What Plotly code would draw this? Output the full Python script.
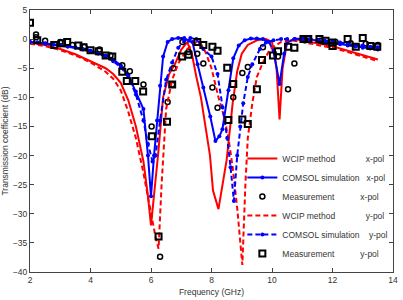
import plotly.graph_objects as go

# ---------------- data ----------------
wcip_x_f = [2.0, 2.5, 3.0, 3.5, 4.0, 4.5, 4.75, 5.0, 5.25, 5.5, 5.75, 5.9, 6.0, 6.1, 6.25, 6.4, 6.6, 6.8, 7.0,
            7.2, 7.35, 7.5, 7.65, 7.8, 7.95, 8.05, 8.23, 8.5, 8.6, 8.7, 8.85, 9.0, 9.2, 9.5, 9.8, 10.0, 10.15,
            10.25, 10.35, 10.5, 10.8, 11.0, 11.5, 12.0, 12.5, 13.0, 13.5]
wcip_x_db = [-0.5, -1.0, -1.7, -2.6, -3.8, -5.0, -6.0, -7.5, -10.5, -15.0, -21.0, -27.0, -32.0, -27.0, -19.0, -10.0, -6.0, -4.2, -1.8,
             -0.5, -2.5, -6.5, -10.0, -15.0, -20.0, -26.0, -29.2, -20.8, -16.0, -11.0, -5.5, -2.5, -1.0, -0.2, 0.0, -0.5, -5.0,
             -13.8, -5.0, -0.5, 0.0, -0.3, -0.7, -1.2, -2.0, -2.8, -3.5]

comsol_x_f = [2.0, 2.25, 2.5, 2.75, 3.0, 3.25, 3.5, 3.75, 4.0, 4.25, 4.5, 4.75, 5.0, 5.25, 5.5, 5.75, 5.9, 6.0, 6.1, 6.2,
              6.3, 6.4, 6.55, 6.7, 6.9, 7.1, 7.25, 7.37, 7.54, 7.73, 7.96, 8.13, 8.26, 8.36, 8.56, 8.72, 8.9, 9.1,
              9.3, 9.5, 9.7, 9.9, 10.05, 10.25, 10.4, 10.5, 10.75, 11.0, 11.25, 11.5, 11.75, 12.0, 12.25, 12.5,
              12.75, 13.0, 13.25, 13.5]
comsol_x_db = [-0.5, -0.6, -0.7, -0.85, -1.0, -1.2, -1.4, -1.7, -2.0, -2.4, -2.8, -3.5, -4.5, -6.2, -9.0, -12.0, -20.0, -27.0, -20.0, -14.0,
               -8.0, -3.0, -0.5, 0.0, 0.2, 0.2, -0.3, -0.5, -4.3, -8.3, -13.3, -17.5, -16.7, -15.5, -8.8, -3.3, -1.1, -0.2,
               0.1, 0.1, 0.0, -0.5, -2.0, -7.7, -2.5, -0.5, 0.0, 0.1, 0.0, -0.3, -0.5, -0.7, -0.9, -1.1,
               -1.3, -1.5, -1.6, -1.8]

meas_x_f = [2.2, 2.2, 2.5, 3.0, 3.4, 3.8, 4.3, 4.66, 5.05, 5.3, 5.75, 6.02, 6.3, 6.55, 6.7, 6.74, 7.04, 7.24,
            7.53, 7.73, 8.03, 8.2, 8.72, 9.02, 9.2, 9.7, 10.2, 10.53, 10.74, 11.1, 11.6, 12.1, 12.6, 13.1, 13.5]
meas_x_db = [0.8, 0.3, -0.3, -0.5, -1.0, -1.3, -1.8, -2.8, -4.5, -5.5, -7.8, -15.0, -37.4, -10.8, -7.8, -5.0, -0.5, -2.2,
             -2.5, -4.2, -8.3, -11.8, -10.0, -5.8, -4.8, -1.4, -3.0, -8.6, -4.2, -0.2, -0.3, -0.5, -0.7, -0.8, -1.0]

wcip_y_f = [2.0, 2.5, 3.0, 3.5, 4.0, 4.5, 4.75, 5.0, 5.25, 5.5, 5.75, 6.0, 6.15, 6.25, 6.35, 6.5, 6.7, 6.9, 7.2,
            7.5, 7.65, 7.8, 8.0, 8.23, 8.4, 8.56, 8.7, 8.85, 9.02, 9.12, 9.2, 9.35, 9.5, 9.7, 9.94, 10.3, 10.6,
            11.0, 11.5, 12.0, 12.5, 13.0, 13.5]
wcip_y_db = [-0.8, -1.2, -1.9, -2.8, -4.0, -5.6, -6.8, -8.8, -12.5, -17.0, -23.0, -30.0, -34.0, -36.0, -25.0, -12.0, -7.0, -4.2, -1.7,
             -0.5, -0.8, -2.2, -5.0, -10.0, -13.0, -17.0, -22.0, -29.0, -38.8, -25.0, -17.0, -11.0, -6.5, -4.0, -1.7, -0.5, -0.2,
             -0.5, -1.0, -1.5, -2.2, -3.0, -3.8]

comsol_y_f = [2.0, 2.25, 2.5, 2.75, 3.0, 3.25, 3.5, 3.75, 4.0, 4.25, 4.5, 4.75, 5.0, 5.25, 5.5, 5.75, 5.9, 6.05, 6.15, 6.3,
              6.5, 6.7, 6.9, 7.1, 7.3, 7.5, 7.73, 8.0, 8.2, 8.36, 8.52, 8.63, 8.74, 8.85, 8.95, 9.05, 9.2, 9.35,
              9.6, 9.8, 10.05, 10.3, 10.5, 10.75, 11.0, 11.25, 11.5, 11.75, 12.0, 12.25, 12.5, 12.75, 13.0, 13.25, 13.5]
comsol_y_db = [-0.5, -0.6, -0.8, -0.95, -1.1, -1.3, -1.5, -1.8, -2.1, -2.5, -3.0, -3.8, -4.8, -6.5, -9.5, -14.0, -18.0, -21.0, -20.0, -14.0,
               -7.0, -4.0, -1.5, -0.3, 0.2, 0.0, -1.7, -3.0, -6.0, -11.7, -17.0, -22.0, -27.8, -20.0, -15.0, -11.0, -6.5, -4.3,
               -1.7, -0.6, -0.2, 0.0, 0.0, 0.0, 0.0, -0.1, -0.1, -0.3, -0.4, -0.6, -0.8, -1.0, -1.1, -1.3, -1.4]

meas_y_f = [2.0, 2.24, 2.8, 3.06, 3.23, 3.6, 3.77, 4.0, 4.27, 4.5, 4.72, 5.05, 5.2, 5.48, 5.74, 6.03, 6.25, 6.53, 6.7,
            7.03, 7.24, 7.53, 7.73, 8.03, 8.2, 8.52, 8.56, 8.72, 9.02, 9.2, 9.5, 9.67, 10.03, 10.2, 10.53, 10.74,
            11.04, 11.2, 11.57, 11.77, 12.0, 12.0, 12.5, 12.77, 13.0, 13.25, 13.48]
meas_y_db = [2.8, -0.2, -1.0, -0.7, -0.5, -1.1, -1.4, -1.9, -2.1, -2.8, -3.0, -5.6, -7.2, -7.2, -9.0, -16.7, -33.9, -14.2, -7.8,
             -3.0, -2.7, -0.5, -1.0, -1.3, -2.0, -4.9, -13.9, -7.7, -13.8, -14.6, -8.6, -3.6, -2.8, -2.1, -1.3, -1.5,
             0.0, 0.0, 0.0, -0.3, -0.6, -1.2, 0.0, -1.3, 0.2, -1.2, -1.3]

x_ticks = [2, 4, 6, 8, 10, 12, 14]
y_ticks = [-40, -35, -30, -25, -20, -15, -10, -5, 0, 5]

nb = "\u00a0"
names = [
    "WCIP method" + nb * 13 + "x-pol",
    "COMSOL simulation" + nb * 3 + "x-pol",
    "Measurement" + nb * 11 + "x-pol",
    "WCIP method" + nb * 13 + "y-pol",
    "COMSOL simulation" + nb * 4 + "y-pol",
    "Measurement" + nb * 11 + "y-pol",
]

RED = "#ff0000"
BLUE = "#0000ff"
FONT = "Liberation Sans"

fig = go.Figure()
fig.add_trace(go.Scatter(x=wcip_x_f, y=wcip_x_db, mode="lines", name=names[0],
                         line=dict(color=RED, width=2)))
fig.add_trace(go.Scatter(x=comsol_x_f, y=comsol_x_db, mode="lines+markers", name=names[1],
                         line=dict(color=BLUE, width=2), marker=dict(color=BLUE, size=4, symbol="circle")))
fig.add_trace(go.Scatter(x=meas_x_f, y=meas_x_db, mode="markers", name=names[2],
                         marker=dict(symbol="circle-open", size=5, color="black", line=dict(width=1.5))))
fig.add_trace(go.Scatter(x=wcip_y_f, y=wcip_y_db, mode="lines", name=names[3],
                         line=dict(color=RED, width=2, dash="5px,3px")))
fig.add_trace(go.Scatter(x=comsol_y_f, y=comsol_y_db, mode="lines+markers", name=names[4],
                         line=dict(color=BLUE, width=2, dash="5px,3px"),
                         marker=dict(color=BLUE, size=4, symbol="circle")))
fig.add_trace(go.Scatter(x=meas_y_f, y=meas_y_db, mode="markers", name=names[5],
                         marker=dict(symbol="square-open", size=6, color="black", line=dict(width=2))))

axis_common = dict(showline=True, linecolor="#444", linewidth=1, mirror="ticks", ticks="inside",
                   ticklen=4, tickcolor="#444", showgrid=False, zeroline=False,
                   tickfont=dict(family=FONT, size=8.5, color="#333"))

fig.update_layout(
    width=403, height=300,
    margin=dict(l=29.5, r=10.3, t=5, b=25),
    plot_bgcolor="white", paper_bgcolor="white",
    xaxis=dict(range=[2, 14], tickvals=x_ticks, **axis_common,
               title=dict(text="Frequency (GHz)", font=dict(family=FONT, size=8.5, color="#333"), standoff=4)),
    yaxis=dict(range=[-40, 5], tickvals=y_ticks, **axis_common,
               title=dict(text="Transmission coefficient (dB)", font=dict(family=FONT, size=8.5, color="#333"), standoff=2)),
    legend=dict(x=0.585, y=0.015, xanchor="left", yanchor="bottom", bgcolor="rgba(0,0,0,0)",
                borderwidth=0, font=dict(family=FONT, size=8.5, color="#333"), itemwidth=30,
                tracegroupgap=0),
    showlegend=True,
)

fig.write_html("out.html")
